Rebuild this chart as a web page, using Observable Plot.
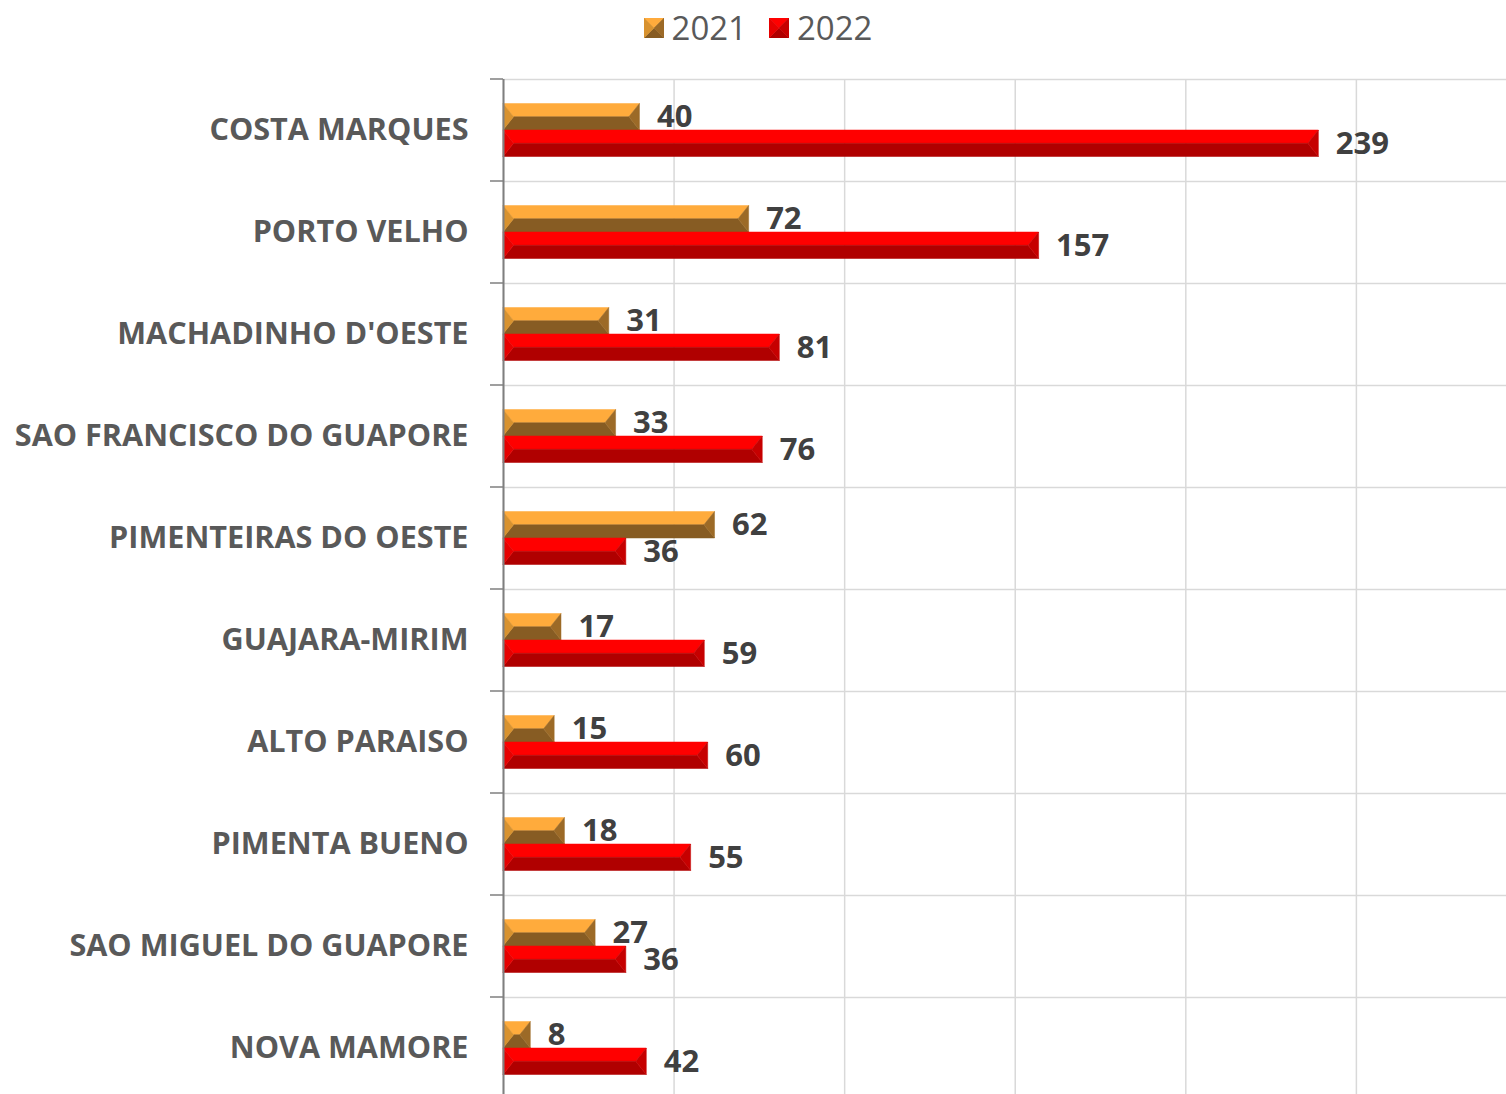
<!DOCTYPE html>
<html>
<head>
<meta charset="utf-8">
<script src="https://cdn.jsdelivr.net/npm/d3@7"></script>
<script src="https://cdn.jsdelivr.net/npm/@observablehq/plot@0.6"></script>
<style>
  html, body { margin: 0; padding: 0; background: #fff; overflow: hidden; }
  #legend { height: 55px; display: flex; justify-content: center; align-items: center; font-family: "Open Sans", sans-serif; font-size: 33px; color: #595959; padding-left: 10px; box-sizing: border-box; }
  .item { display: flex; align-items: center; margin: 0 11px; }
  .item svg { margin-right: 8px; }
</style>
</head>
<body>
<div id="legend"></div>
<div id="chart"></div>
<script>
const categories = ["COSTA MARQUES", "PORTO VELHO", "MACHADINHO D'OESTE", "SAO FRANCISCO DO GUAPORE", "PIMENTEIRAS DO OESTE", "GUAJARA-MIRIM", "ALTO PARAISO", "PIMENTA BUENO", "SAO MIGUEL DO GUAPORE", "NOVA MAMORE"];
const values2021 = [40, 72, 31, 33, 62, 17, 15, 18, 27, 8];
const values2022 = [239, 157, 81, 76, 36, 59, 60, 55, 36, 42];
const seriesNames = ["2021", "2022"];
const xTicks = [0, 50, 100, 150, 200, 250, 300];

const palette = {
  "2021": {top: "#FFAB3C", left: "#D8922F", bottom: "#875C23", right: "#9C6A27"},
  "2022": {top: "#FF0000", left: "#E60000", bottom: "#B00000", right: "#C60000"}
};

const d2021 = categories.map((c, i) => ({cat: c, year: "2021", value: values2021[i]}));
const d2022 = categories.map((c, i) => ({cat: c, year: "2022", value: values2022[i]}));

function pyramid(x, y, w, h, cols, k) {
  const d = Math.min(h / 2 * k, w / 2);
  const m = y + h / 2;
  const pts = [
    [cols.top, [[x, y], [x + w, y], [x + w - d, m], [x + d, m]]],
    [cols.bottom, [[x, y + h], [x + w, y + h], [x + w - d, m], [x + d, m]]],
    [cols.left, [[x, y], [x + d, m], [x, y + h]]],
    [cols.right, [[x + w, y], [x + w - d, m], [x + w, y + h]]]
  ];
  return pts.map(([c, p]) => `<polygon fill="${c}" stroke="${c}" stroke-width="0.5" points="${p.map(q => q.join(",")).join(" ")}"/>`).join("");
}

// Legend
const legend = document.getElementById("legend");
seriesNames.forEach(s => {
  const item = document.createElement("div");
  item.className = "item";
  item.innerHTML = `<svg width="20" height="20">${pyramid(0, 0, 20, 20, palette[s], 1)}</svg><span>${s}</span>`;
  legend.appendChild(item);
});

const band = 102;
const barH = 26.5;
const outer = (band - 2 * barH) / 2;

const chart = Plot.plot({
  width: 1506,
  height: 1044,
  marginTop: 24,
  marginBottom: 0,
  marginLeft: 503,
  marginRight: 0,
  style: {fontFamily: "'Open Sans', sans-serif", color: "#595959", background: "#fff"},
  x: {domain: [0, 294], axis: null},
  y: {domain: categories, padding: 0, label: null},
  marks: [
    Plot.gridX(xTicks, {stroke: "#d9d9d9", strokeOpacity: 1, strokeWidth: 1.5}),
    Plot.tickY(categories, {y: d => d, dy: -band / 2, stroke: "#d9d9d9", strokeWidth: 1.5}),
    Plot.tickY(categories.slice(-1), {y: d => d, dy: band / 2, stroke: "#d9d9d9", strokeWidth: 1.5}),
    Plot.barX(d2021, {y: "cat", x: "value", fill: palette["2021"].top, insetTop: outer, insetBottom: band - outer - barH}),
    Plot.barX(d2022, {y: "cat", x: "value", fill: palette["2022"].top, insetTop: outer + barH, insetBottom: outer}),
    Plot.ruleX([0], {stroke: "#7f7f7f", strokeWidth: 2}),
    Plot.text(d2021, {y: "cat", x: "value", text: d => String(d.value), dx: 17, dy: -barH / 2, textAnchor: "start", fontSize: 31, fontWeight: "bold", fill: "#404040"}),
    Plot.text(d2022, {y: "cat", x: "value", text: d => String(d.value), dx: 17, dy: barH / 2, textAnchor: "start", fontSize: 31, fontWeight: "bold", fill: "#404040"}),
    Plot.axisY({tickSize: 0, tickPadding: 35, fontSize: 30.6, fontWeight: "bold", fill: "#595959"})
  ]
});

// Bevelled bars
const barGroups = chart.querySelectorAll('g[aria-label="bar"]');
barGroups.forEach((g, gi) => {
  const cols = palette[seriesNames[gi]];
  const rects = Array.from(g.querySelectorAll("rect"));
  rects.forEach(r => {
    const x = +r.getAttribute("x"), y = +r.getAttribute("y");
    const w = +r.getAttribute("width"), h = +r.getAttribute("height");
    const ns = "http://www.w3.org/2000/svg";
    const gg = document.createElementNS(ns, "g");
    gg.innerHTML = pyramid(x, y, w, h, cols, 0.8);
    r.replaceWith(gg);
  });
});

// Left tick marks on the category axis
const yS = chart.scale("y");
const ml = 503;
const bounds = categories.map(c => yS.apply(c)).concat([yS.apply(categories[categories.length - 1]) + yS.bandwidth]);
const tg = d3.select(chart).append("g");
tg.selectAll("line").data(bounds).join("line")
  .attr("x1", ml - 13).attr("x2", ml).attr("y1", d => d).attr("y2", d => d)
  .attr("stroke", "#7f7f7f").attr("stroke-width", 1.5);

document.getElementById("chart").appendChild(chart);
</script>
</body>
</html>
